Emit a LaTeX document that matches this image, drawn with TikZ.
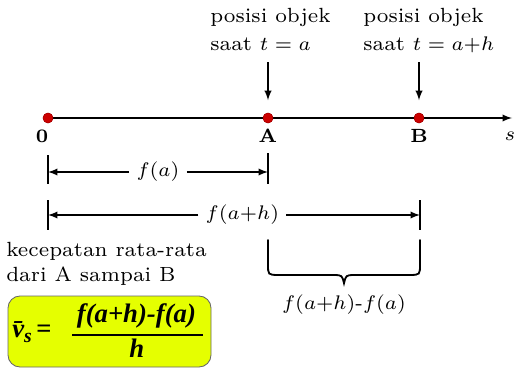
\documentclass[tikz,border=0pt]{standalone}
\usepackage{fontspec}
\newfontfamily\formfont{Liberation Serif}
\definecolor{boxyellow}{HTML}{E5FF00}
\definecolor{dotred}{HTML}{CC0000}
% small design size, shown twice as large
\newcommand{\dbl}[1]{\scalebox{2}{#1}}

\begin{document}
\begin{tikzpicture}[
        >=latex,
        every node/.style={font=\fontsize{7}{8.4}\selectfont,inner sep=0pt},
        dotpt/.style={circle,fill=dotred,draw=dotred!80!black,line width=0.3pt,minimum size=0.25cm,inner sep=0pt},
        ptlabel/.style={font=\fontsize{6.8}{8}\selectfont},
        txt/.style={font=\fontsize{7.3}{8.8}\selectfont,anchor=base west},
        dimlabel/.style={inner sep=5pt},
        tickline/.style={line width=1.8pt},
        mainline/.style={line width=1.3pt},
        formula/.style={font=\fontsize{19}{22}\selectfont\formfont\bfseries\itshape},
        formbox/.style={draw=gray!80!black,fill=boxyellow,rounded corners=0.3cm,line width=0.6pt,
            minimum width=5.075cm,minimum height=1.775cm}
    ]
    \useasboundingbox (0,0) rectangle (12.9,9.2);

    % Number line
    \node[dotpt] (pO) at (1.2,6.25) {};
    \node[dotpt] (pA) at (6.7,6.25) {};
    \node[dotpt] (pB) at (10.475,6.25) {};
    \coordinate (send) at (12.8,6.25);
    \draw[mainline,->] (pO.center) -- (send);
    \node[dotpt] at (pO) {};
    \node[dotpt] at (pA) {};
    \node[dotpt] at (pB) {};

    \node[ptlabel] (lO) at (1.05,5.8) {\dbl{\bfseries 0}};
    \node[ptlabel] (lA) at (6.7,5.8) {\dbl{\bfseries A}};
    \node[ptlabel] (lB) at (10.475,5.8) {\dbl{\bfseries B}};
    \node[ptlabel] (ls) at (12.75,5.8) {\dbl{$s$}};

    % Positions of the object
    \node[txt] (txtA1) at (5.25,8.625) {\dbl{posisi objek}};
    \node[txt] (txtA2) at (5.25,7.925) {\dbl{saat $t=a$}};
    \node[txt] (txtB1) at (9.075,8.625) {\dbl{posisi objek}};
    \node[txt] (txtB2) at (9.075,7.925) {\dbl{saat $t=a{+}h$}};

    \coordinate (topA) at (6.7,7.65);
    \coordinate (topB) at (10.475,7.65);
    \draw[mainline,->,shorten >=9pt] (topA) -- (pA);
    \draw[mainline,->,shorten >=9pt] (topB) -- (pB);

    % Distance f(a)
    \draw[tickline] (1.2,5.325) -- (1.2,4.6);
    \draw[tickline] (6.7,5.375) -- (6.7,4.6);
    \node[dimlabel] (fa) at (3.95,4.9) {\dbl{$f(a)$}};
    \coordinate (faL) at (1.2,4.9);
    \coordinate (faR) at (6.7,4.9);
    \draw[mainline,->] (fa) -- (faL);
    \draw[mainline,->] (fa) -- (faR);

    % Distance f(a+h)
    \draw[tickline] (1.2,4.2) -- (1.2,3.45);
    \draw[tickline] (10.5,4.2) -- (10.5,3.45);
    \node[dimlabel] (fah) at (6.06,3.825) {\dbl{$f(a{+}h)$}};
    \coordinate (fahL) at (1.2,3.825);
    \coordinate (fahR) at (10.5,3.825);
    \draw[mainline,->] (fah) -- (fahL);
    \draw[mainline,->] (fah) -- (fahR);

    % Brace for the difference
    \draw[mainline,line cap=round]
        (6.7,3.2) -- (6.7,2.6)
        .. controls (6.7,2.33) .. (6.95,2.325) -- (8.35,2.325)
        .. controls (8.55,2.32) .. (8.6,2.12)
        .. controls (8.65,2.32) .. (8.85,2.325) -- (10.25,2.325)
        .. controls (10.5,2.33) .. (10.5,2.6) -- (10.5,3.2);
    \node (diff) at (8.6,1.575) {\dbl{$f(a{+}h)$-$f(a)$}};

    % Average velocity
    \node[txt] (kec1) at (0.15,2.8) {\dbl{kecepatan rata-rata}};
    \node[txt] (kec2) at (0.15,2.175) {\dbl{dari A sampai B}};

    \node[formbox] (box) at (2.7375,0.9125) {};
    \node[formula,anchor=base west] (vs) at (0.3,0.775)
        {\={v}\raisebox{-0.45ex}{\fontsize{14}{14}\selectfont s}\,=};
    \node[formula,anchor=base] (num) at (3.41,1.15) {f(a+h)-f(a)};
    \node[formula,anchor=base] (den) at (3.42,0.275) {h};
    \draw[line width=1.5pt] (1.8,0.825) -- (5.075,0.825);

\end{tikzpicture}
\end{document}
